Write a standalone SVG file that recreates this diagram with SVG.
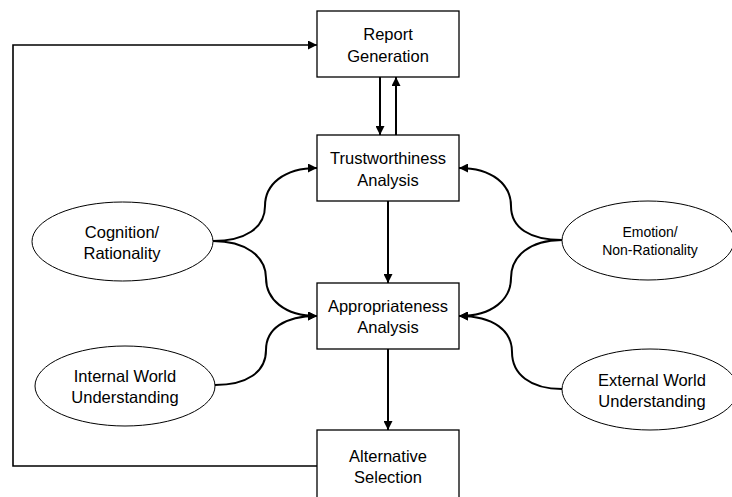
<svg xmlns="http://www.w3.org/2000/svg" width="732" height="497" viewBox="0 0 732 497">
<defs>
<marker id="ah" viewBox="0 0 10 10" refX="10" refY="5" markerUnits="userSpaceOnUse" markerWidth="10" markerHeight="9" orient="auto">
<path d="M0,0 L10,5 L0,10 z" fill="#000"/>
</marker>
</defs>
<style>
.box{fill:#fff;stroke:#000;stroke-width:1.3}
.ell{fill:#fff;stroke:#000;stroke-width:1}
.c{fill:none;stroke:#000;stroke-width:2}
.t{font-family:"Liberation Sans",Arial,sans-serif;font-size:16.5px;fill:#000;text-anchor:middle}
.s{font-size:14px}
</style>
<rect width="732" height="497" fill="#fff"/>
<g id="connectors">
<path class="c" d="M380,77 L380,135" marker-end="url(#ah)"/>
<path class="c" d="M396,135 L396,77" marker-end="url(#ah)"/>
<path class="c" d="M388,201 L388,283" marker-end="url(#ah)"/>
<path class="c" d="M388,349 L388,430" marker-end="url(#ah)"/>
<path class="c" style="stroke-width:1.6" d="M317,466 L13,466 L13,45 L317,45" marker-end="url(#ah)"/>
<path class="c" d="M213,241 C245,241 265,228 265,206 C265,185 283,168 317,168" marker-end="url(#ah)"/>
<path class="c" d="M213,241 C245,241 266,256 266,278 C266,299 284,316 317,316" marker-end="url(#ah)"/>
<path class="c" d="M215,385 C247,385 266,372 266,350 C266,329 284,316 317,316" marker-end="url(#ah)"/>
<path class="c" d="M562,240 C530,240 511,228 511,206 C511,185 493,168 459,168" marker-end="url(#ah)"/>
<path class="c" d="M562,240 C530,240 511,256 511,278 C511,299 493,316 459,316" marker-end="url(#ah)"/>
<path class="c" d="M562,389 C530,389 512,374 512,352 C512,331 494,316 459,316" marker-end="url(#ah)"/>
</g>
<g id="report">
<rect class="box" x="317" y="11" width="142" height="66"/>
<text class="t" x="388" y="40">Report</text>
<text class="t" x="388" y="62">Generation</text>
</g>
<g id="trust">
<rect class="box" x="317" y="135" width="142" height="66"/>
<text class="t" x="388" y="164">Trustworthiness</text>
<text class="t" x="388" y="186">Analysis</text>
</g>
<g id="approp">
<rect class="box" x="317" y="283" width="142" height="66"/>
<text class="t" x="388" y="312">Appropriateness</text>
<text class="t" x="388" y="333">Analysis</text>
</g>
<g id="alternative">
<rect class="box" x="317" y="430" width="142" height="80"/>
<text class="t" x="388" y="462">Alternative</text>
<text class="t" x="388" y="483">Selection</text>
</g>
<g id="cognition">
<ellipse class="ell" cx="122.5" cy="241.5" rx="90.5" ry="39.5"/>
<text class="t" x="122" y="238">Cognition/</text>
<text class="t" x="122" y="259">Rationality</text>
</g>
<g id="internal">
<ellipse class="ell" cx="125" cy="386" rx="90" ry="40"/>
<text class="t" x="125" y="382">Internal World</text>
<text class="t" x="125" y="403">Understanding</text>
</g>
<g id="emotion">
<ellipse class="ell" cx="648" cy="240.5" rx="86" ry="39.5"/>
<text class="t s" x="650" y="237">Emotion/</text>
<text class="t s" x="650" y="255">Non-Rationality</text>
</g>
<g id="external">
<ellipse class="ell" cx="650" cy="389.5" rx="88" ry="40.5"/>
<text class="t" x="652" y="386">External World</text>
<text class="t" x="652" y="407">Understanding</text>
</g>
</svg>
